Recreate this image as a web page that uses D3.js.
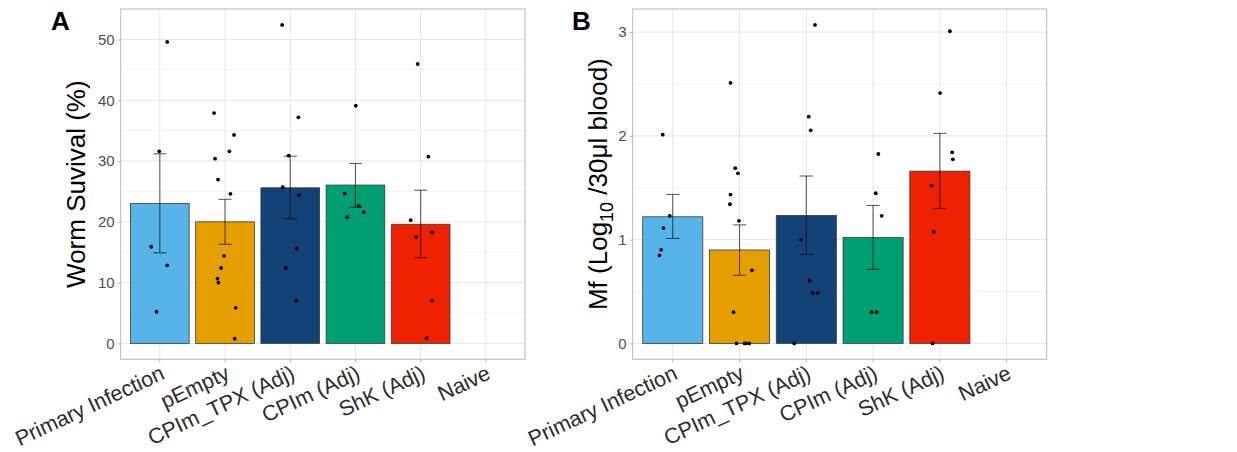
<!DOCTYPE html>
<html>
<head>
<meta charset="utf-8">
<script src="https://cdn.jsdelivr.net/npm/d3@7"></script>
<style>
  html, body { margin: 0; padding: 0; background: #ffffff; }
  svg { display: block; font-family: "Liberation Sans", Arial, Helvetica, sans-serif; }
</style>
</head>
<body>
<svg id="chart" width="1237" height="452"></svg>
<script>
// Treatment groups, in plotting order
const groups = ["Primary Infection", "pEmpty", "CPIm_TPX (Adj)", "CPIm (Adj)", "ShK (Adj)", "Naive"];
const groupColors = ["#56B4E9", "#E69F00", "#134376", "#009E73", "#EE2200", "#999999"];

// Panel A: worm survival (%), group mean and mean ± SE
const wormMean = [23.0, 20.0, 25.6, 26.05, 19.6, null];
const wormSeLow = [14.9, 16.3, 20.5, 22.4, 14.1, null];
const wormSeHigh = [31.2, 23.7, 30.8, 29.6, 25.2, null];
// individual animals
const wormPoints = [
  [49.6, 31.6, 15.9, 12.85, 5.2],
  [37.9, 30.4, 31.6, 34.3, 26.95, 24.6, 14.4, 12.4, 10.66, 10.0, 5.85, 0.77],
  [52.4, 37.2, 30.9, 25.7, 24.4, 15.6, 12.4, 7.05],
  [39.1, 24.65, 22.57, 21.59, 20.77],
  [45.97, 30.72, 20.28, 18.26, 17.49, 7.05, 0.88],
  []
];
// horizontal jitter of each point, as a fraction of the category step
const wormJitter = [
  [0.113, -0.009, -0.132, 0.113, -0.051],
  [-0.168, -0.153, 0.067, 0.138, -0.107, 0.083, -0.015, -0.061, -0.116, -0.101, 0.164, 0.149],
  [-0.124, 0.126, -0.023, -0.115, 0.136, 0.1, -0.069, 0.09],
  [0.005, -0.164, 0.051, 0.127, -0.127],
  [-0.046, 0.118, -0.153, 0.175, -0.07, 0.175, 0.092],
  []
];
const wormTicks = [0, 10, 20, 30, 40, 50];
const wormMinor = [5, 15, 25, 35, 45];

// Panel B: microfilaraemia, log10 per 30 µl blood
const mfMean = [1.22, 0.90, 1.233, 1.02, 1.66, null];
const mfSeLow = [1.011, 0.656, 0.858, 0.713, 1.30, null];
const mfSeHigh = [1.435, 1.142, 1.613, 1.329, 2.024, null];
const mfPoints = [
  [2.011, 1.229, 1.111, 0.902, 0.848],
  [2.51, 1.688, 1.639, 1.434, 1.341, 1.181, 0.704, 0.30, 0, 0, 0, 0],
  [3.069, 2.185, 2.053, 0.998, 0.604, 0.483, 0.483, 0],
  [1.825, 1.447, 1.229, 0.30, 0.30],
  [3.008, 2.412, 1.841, 1.774, 1.521, 1.075, 0],
  []
];
const mfJitter = [
  [-0.15, -0.045, -0.139, -0.174, -0.199],
  [-0.135, -0.064, -0.024, -0.135, -0.144, -0.009, 0.186, -0.09, -0.045, 0.075, 0.096, 0.145],
  [0.13, 0.036, 0.066, -0.079, 0.051, 0.096, 0.171, -0.18],
  [0.079, 0.039, 0.129, -0.021, 0.054],
  [0.15, 0.004, 0.184, 0.195, -0.124, -0.09, -0.109],
  []
];
const mfTicks = [0, 1, 2, 3];
const mfMinor = [0.5, 1.5, 2.5];

const svg = d3.select("#chart");

function drawPanel(cfg) {
  const g = svg.append("g");
  const { left, right, top, bottom } = cfg.box;

  // discrete x: bars take 0.9 of a step, 0.6 step margin at both ends
  const x = d3.scaleBand().domain(groups).range([left, right])
    .paddingInner(0.1).paddingOuter(0.15);
  const step = x.step();
  const cx = d => x(d) + x.bandwidth() / 2;

  const dataMax = d3.max([d3.max(cfg.points.flat()), d3.max(cfg.hi.filter(v => v != null))]);
  const y = d3.scaleLinear().domain([-0.05 * dataMax, 1.05 * dataMax]).range([bottom, top]);

  // grid
  g.append("g").selectAll("line").data(cfg.minor).join("line")
    .attr("x1", left).attr("x2", right)
    .attr("y1", d => y(d)).attr("y2", d => y(d))
    .attr("stroke", "#f3f3f3").attr("stroke-width", 0.8);
  g.append("g").selectAll("line").data(cfg.ticks).join("line")
    .attr("x1", left).attr("x2", right)
    .attr("y1", d => y(d)).attr("y2", d => y(d))
    .attr("stroke", "#e6e6e6").attr("stroke-width", 1);
  g.append("g").selectAll("line").data(groups).join("line")
    .attr("x1", d => cx(d)).attr("x2", d => cx(d))
    .attr("y1", top).attr("y2", bottom)
    .attr("stroke", "#e6e6e6").attr("stroke-width", 1);

  // bars
  const rows = groups.map((gname, i) => ({
    g: gname, i, mean: cfg.mean[i], lo: cfg.lo[i], hi: cfg.hi[i]
  })).filter(r => r.mean != null);

  g.append("g").selectAll("rect").data(rows).join("rect")
    .attr("x", d => x(d.g))
    .attr("width", x.bandwidth())
    .attr("y", d => y(d.mean))
    .attr("height", d => y(0) - y(d.mean))
    .attr("fill", d => groupColors[d.i])
    .attr("stroke", "#3a3a3a").attr("stroke-width", 0.8);

  // error bars (mean ± SE)
  const eb = g.append("g").attr("stroke", "#000").attr("stroke-opacity", 0.62)
    .attr("stroke-width", 1.1).attr("fill", "none");
  const cap = 0.1 * step;
  rows.forEach(d => {
    const xc = cx(d.g);
    eb.append("line").attr("x1", xc).attr("x2", xc).attr("y1", y(d.lo)).attr("y2", y(d.hi));
    eb.append("line").attr("x1", xc - cap).attr("x2", xc + cap).attr("y1", y(d.lo)).attr("y2", y(d.lo));
    eb.append("line").attr("x1", xc - cap).attr("x2", xc + cap).attr("y1", y(d.hi)).attr("y2", y(d.hi));
  });

  // individual points
  const pts = [];
  groups.forEach((gname, i) => {
    cfg.points[i].forEach((v, j) => pts.push({ g: gname, v, jit: cfg.jitter[i][j] }));
  });
  g.append("g").selectAll("circle").data(pts).join("circle")
    .attr("cx", d => cx(d.g) + d.jit * step)
    .attr("cy", d => y(d.v))
    .attr("r", 1.9)
    .attr("fill", "#000");

  // panel border
  g.append("rect")
    .attr("x", left).attr("y", top)
    .attr("width", right - left).attr("height", bottom - top)
    .attr("fill", "none").attr("stroke", "#b8b8b8").attr("stroke-width", 1);

  // y axis
  const yAxis = g.append("g").attr("transform", `translate(${left},0)`)
    .call(d3.axisLeft(y).tickValues(cfg.ticks).tickSize(3).tickPadding(3).tickFormat(d3.format("d")));
  yAxis.select(".domain").remove();
  yAxis.selectAll(".tick line").attr("stroke", "#b8b8b8");
  yAxis.selectAll(".tick text")
    .attr("fill", "#4d4d4d").style("font-size", "15px")
    .style("font-family", "'Liberation Sans', Arial, sans-serif");

  // x axis
  const xAxis = g.append("g").attr("transform", `translate(0,${bottom})`)
    .call(d3.axisBottom(x).tickSize(3).tickFormat(""));
  xAxis.select(".domain").remove();
  xAxis.selectAll(".tick line").attr("stroke", "#b8b8b8");

  g.append("g").selectAll("text").data(groups).join("text")
    .attr("transform", d => `translate(${cx(d) + 6},${bottom + 19}) rotate(-25)`)
    .attr("text-anchor", "end")
    .attr("fill", "#2b2b2b")
    .style("font-size", "21.5px")
    .text(d => d);

  // y title
  const yt = g.append("text")
    .attr("transform", `translate(${cfg.titleX},${(top + bottom) / 2}) rotate(-90)`)
    .attr("text-anchor", "middle")
    .attr("fill", "#000")
    .style("font-size", "26px");
  cfg.title(yt);

  // panel tag
  g.append("text")
    .attr("x", cfg.tagX).attr("y", 30)
    .attr("fill", "#000")
    .style("font-size", "26px").style("font-weight", "bold")
    .text(cfg.tag);
}

drawPanel({
  box: { left: 120.7, right: 525, top: 9, bottom: 359.3 },
  mean: wormMean, lo: wormSeLow, hi: wormSeHigh,
  points: wormPoints, jitter: wormJitter,
  ticks: wormTicks, minor: wormMinor,
  titleX: 85,
  title: t => t.text("Worm Suvival (%)"),
  tag: "A", tagX: 51
});

drawPanel({
  box: { left: 632.7, right: 1046.7, top: 9, bottom: 359.3 },
  mean: mfMean, lo: mfSeLow, hi: mfSeHigh,
  points: mfPoints, jitter: mfJitter,
  ticks: mfTicks, minor: mfMinor,
  titleX: 606.5,
  title: t => {
    t.append("tspan").text("Mf (Log");
    t.append("tspan").attr("dy", 6).style("font-size", "18px").text("10");
    t.append("tspan").attr("dy", -6).text(" /30μl blood)");
  },
  tag: "B", tagX: 572
});
</script>
</body>
</html>
